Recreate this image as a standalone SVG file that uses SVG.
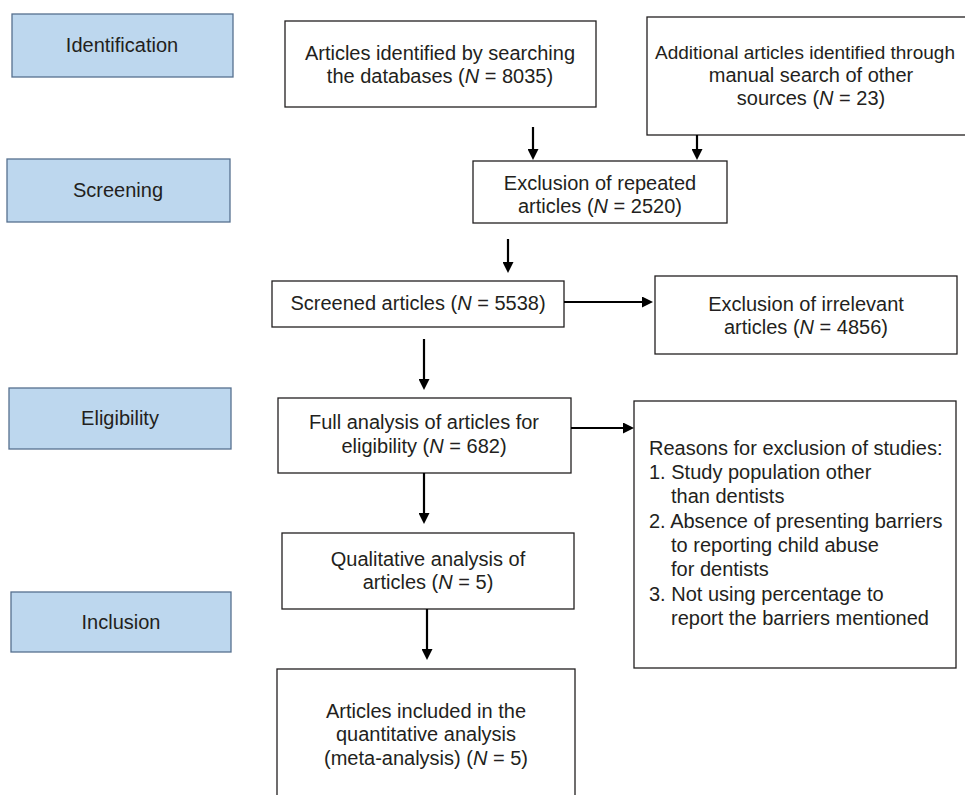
<svg xmlns="http://www.w3.org/2000/svg" width="965" height="795" viewBox="0 0 965 795">
<defs>
<style>
text{font-family:"Liberation Sans",Arial,sans-serif;font-size:20px;fill:#231f20}
.c{text-anchor:middle}
.stage rect{fill:#bdd7ee;stroke:#56708f;stroke-width:1.3}
.box rect{fill:#fff;stroke:#231f20;stroke-width:1.3}
.conn line{stroke:#000;stroke-width:2.2}
</style>
<marker id="ah" markerUnits="userSpaceOnUse" markerWidth="11" markerHeight="11" refX="2" refY="5.5" orient="auto">
<path d="M0,0 L11,5.5 L0,11 z" fill="#000"/>
</marker>
</defs>
<rect width="965" height="795" fill="#fff"/>
<g id="stage-identification" class="stage"><rect x="12" y="14" width="221" height="63"/><text class="c" x="122" y="52">Identification</text></g>
<g id="stage-screening" class="stage"><rect x="7" y="159" width="223" height="63"/><text class="c" x="118" y="197">Screening</text></g>
<g id="stage-eligibility" class="stage"><rect x="9" y="388" width="222" height="61"/><text class="c" x="120" y="425">Eligibility</text></g>
<g id="stage-inclusion" class="stage"><rect x="11" y="592" width="220" height="60"/><text class="c" x="121" y="629">Inclusion</text></g>

<g id="n-databases" class="box"><rect x="285" y="21" width="311" height="86"/>
<text class="c" x="440" y="60">Articles identified by searching</text>
<text class="c" x="440" y="83">the databases (<tspan font-style="italic">N</tspan> = 8035)</text></g>
<g id="n-additional" class="box"><rect x="647" y="17" width="330" height="118"/>
<text x="655" y="59" style="font-size:19px">Additional articles identified through</text>
<text class="c" x="811" y="82">manual search of other</text>
<text class="c" x="811" y="105">sources (<tspan font-style="italic">N</tspan> = 23)</text></g>
<g id="n-repeated" class="box"><rect x="473" y="161" width="254" height="62"/>
<text class="c" x="600" y="190">Exclusion of repeated</text>
<text class="c" x="600" y="213">articles (<tspan font-style="italic">N</tspan> = 2520)</text></g>
<g id="n-screened" class="box"><rect x="272" y="281" width="292" height="46"/>
<text class="c" x="418" y="310">Screened articles (<tspan font-style="italic">N</tspan> = 5538)</text></g>
<g id="n-irrelevant" class="box"><rect x="655" y="276" width="302" height="78"/>
<text class="c" x="806" y="311">Exclusion of irrelevant</text>
<text class="c" x="806" y="334">articles (<tspan font-style="italic">N</tspan> = 4856)</text></g>
<g id="n-full" class="box"><rect x="278" y="398" width="293" height="75"/>
<text class="c" x="424" y="429">Full analysis of articles for</text>
<text class="c" x="424" y="453">eligibility (<tspan font-style="italic">N</tspan> = 682)</text></g>
<g id="n-reasons" class="box"><rect x="634" y="401" width="322" height="267"/>
<text x="649" y="455">Reasons for exclusion of studies:</text>
<text x="649" y="479">1. Study population other</text>
<text x="671" y="503">than dentists</text>
<text x="649" y="528">2. Absence of presenting barriers</text>
<text x="671" y="552">to reporting child abuse</text>
<text x="671" y="576">for dentists</text>
<text x="649" y="601">3. Not using percentage to</text>
<text x="671" y="625">report the barriers mentioned</text></g>
<g id="n-qualitative" class="box"><rect x="282" y="533" width="292" height="76"/>
<text class="c" x="428" y="566">Qualitative analysis of</text>
<text class="c" x="428" y="589">articles (<tspan font-style="italic">N</tspan> = 5)</text></g>
<g id="n-included" class="box"><rect x="277" y="669" width="298" height="140"/>
<text class="c" x="426" y="718">Articles included in the</text>
<text class="c" x="426" y="741">quantitative analysis</text>
<text class="c" x="426" y="765">(meta-analysis) (<tspan font-style="italic">N</tspan> = 5)</text></g>

<g id="connectors" class="conn">
<line x1="533" y1="127" x2="533" y2="151" marker-end="url(#ah)"/>
<line x1="697" y1="135" x2="697" y2="151" marker-end="url(#ah)"/>
<line x1="508" y1="239" x2="508" y2="264" marker-end="url(#ah)"/>
<line x1="564" y1="302" x2="644" y2="302" marker-end="url(#ah)"/>
<line x1="424" y1="339" x2="424" y2="381" marker-end="url(#ah)"/>
<line x1="571" y1="428" x2="625" y2="428" marker-end="url(#ah)"/>
<line x1="424" y1="473" x2="424" y2="515" marker-end="url(#ah)"/>
<line x1="427" y1="609" x2="427" y2="651" marker-end="url(#ah)"/>
</g>
</svg>
